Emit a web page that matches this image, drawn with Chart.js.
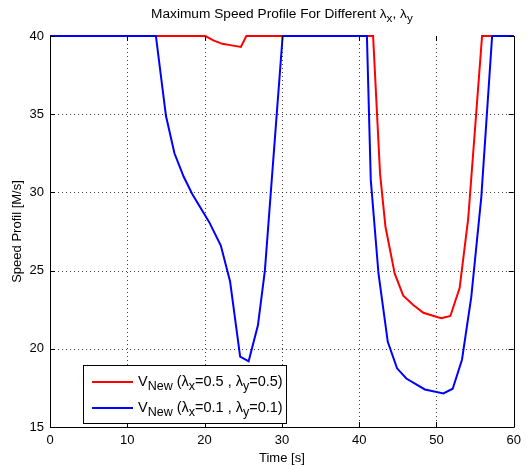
<!DOCTYPE html>
<html>
<head>
<meta charset="utf-8">
<script src="https://cdn.jsdelivr.net/npm/chart.js@4"></script>
<style>
  html, body { margin: 0; padding: 0; background: #fff; }
  #c { display: block; }
</style>
</head>
<body>
<canvas id="c" width="527" height="466" style="width:527px;height:466px"></canvas>
<script>
// ===== DATA =====
const timeRed  = [0, 20.1, 21.2, 22.3, 23.5, 24.7, 25.4, 41.8, 42.7, 43.4, 44.6, 45.7, 47.0, 48.3, 50.6, 51.8, 53.0, 54.1, 55.9, 60];
const speedRed = [40, 40, 39.7, 39.5, 39.4, 39.3, 40, 40, 31.2, 27.8, 24.8, 23.4, 22.8, 22.3, 21.95, 22.1, 23.9, 28.3, 40, 40];

const timeBlue  = [0, 13.7, 15.0, 16.1, 17.3, 18.4, 20.6, 22.1, 23.3, 24.6, 25.7, 26.9, 27.8, 30.1, 41.0, 41.5, 42.5, 43.7, 44.9, 46.1, 48.5, 50.9, 52.1, 53.3, 54.5, 55.8, 57.2, 60];
const speedBlue = [40, 40, 34.9, 32.5, 31.0, 29.9, 28.1, 26.6, 24.3, 19.5, 19.2, 21.5, 25.0, 40, 40, 30.8, 24.8, 20.45, 18.75, 18.1, 17.4, 17.15, 17.45, 19.3, 23.3, 29.7, 40, 40];

const xTicks = [0, 10, 20, 30, 40, 50, 60];
const yTicks = [15, 20, 25, 30, 35, 40];

const FONT = '"Liberation Sans", Arial, Helvetica, sans-serif';

const toPoints = (xs, ys) => xs.map((x, i) => ({ x: x, y: ys[i] }));

// text with subscripts, parts = [[text, isSub], ...]
function richWidth(ctx, parts, size) {
  let w = 0;
  parts.forEach(p => {
    ctx.font = (p[1] ? size - 2 : size) + 'px ' + FONT;
    w += ctx.measureText(p[0]).width;
  });
  return w;
}
function drawRich(ctx, parts, x, y, size) {
  ctx.textAlign = 'left';
  ctx.textBaseline = 'alphabetic';
  parts.forEach(p => {
    ctx.font = (p[1] ? size - 2 : size) + 'px ' + FONT;
    ctx.fillText(p[0], x, p[1] ? y + 4 : y);
    x += ctx.measureText(p[0]).width;
  });
}

const titleParts = [['Maximum Speed Profile For Different \u03bb', false], ['x', true], [', \u03bb', false], ['y', true]];
const legendItems = [
  { color: '#ff0000', parts: [['V', false], ['New', true], [' (\u03bb', false], ['x', true], ['=0.5 , \u03bb', false], ['y', true], ['=0.5)', false]] },
  { color: '#0000ff', parts: [['V', false], ['New', true], [' (\u03bb', false], ['x', true], ['=0.1 , \u03bb', false], ['y', true], ['=0.1)', false]] }
];

const matlabPlugin = {
  id: 'matlab',
  beforeDatasetsDraw(chart) {
    // dotted grid
    const ctx = chart.ctx;
    const a = chart.chartArea;
    const xs = chart.scales.x, ys = chart.scales.y;
    ctx.save();
    ctx.strokeStyle = 'rgba(0,0,0,0.75)';
    ctx.lineWidth = 1;
    ctx.setLineDash([1, 3]);
    ctx.beginPath();
    xTicks.slice(1, -1).forEach(v => {
      const px = Math.round(xs.getPixelForValue(v)) + 0.5;
      ctx.moveTo(px, a.top); ctx.lineTo(px, a.bottom);
    });
    yTicks.slice(1, -1).forEach(v => {
      const py = Math.round(ys.getPixelForValue(v)) + 0.5;
      ctx.moveTo(a.left, py); ctx.lineTo(a.right, py);
    });
    ctx.stroke();
    ctx.restore();
  },
  afterDraw(chart) {
    const ctx = chart.ctx;
    const a = chart.chartArea;
    const xs = chart.scales.x, ys = chart.scales.y;
    ctx.save();
    ctx.fillStyle = '#000';
    ctx.strokeStyle = '#000';
    ctx.lineWidth = 1;

    // inward tick marks on all four sides
    ctx.beginPath();
    xTicks.forEach(v => {
      const px = Math.round(xs.getPixelForValue(v)) + 0.5;
      ctx.moveTo(px, a.bottom); ctx.lineTo(px, a.bottom - 5);
      ctx.moveTo(px, a.top); ctx.lineTo(px, a.top + 5);
    });
    yTicks.forEach(v => {
      const py = Math.round(ys.getPixelForValue(v)) + 0.5;
      ctx.moveTo(a.left, py); ctx.lineTo(a.left + 5, py);
      ctx.moveTo(a.right, py); ctx.lineTo(a.right - 5, py);
    });
    ctx.stroke();

    // frame: left, bottom, right (the top edge is covered by the 40 line)
    ctx.beginPath();
    const L = Math.round(a.left) + 0.5, R = Math.round(a.right) + 0.5;
    const T = Math.round(a.top) + 0.5, B = Math.round(a.bottom) + 0.5;
    ctx.moveTo(L, T); ctx.lineTo(L, B); ctx.lineTo(R, B); ctx.lineTo(R, T);
    ctx.stroke();

    // title
    const tw = richWidth(ctx, titleParts, 13.7);
    drawRich(ctx, titleParts, (a.left + a.right) / 2 - tw / 2, 18, 13.7);

    // legend
    const lx = 83.5, ly = 365.5, lw = 203, lh = 58;
    ctx.fillStyle = '#fff';
    ctx.fillRect(lx, ly, lw, lh);
    ctx.strokeRect(lx, ly, lw, lh);
    legendItems.forEach((it, i) => {
      const cy = 382 + i * 26;
      ctx.strokeStyle = it.color;
      ctx.lineWidth = 2;
      ctx.beginPath();
      ctx.moveTo(92, cy); ctx.lineTo(133, cy);
      ctx.stroke();
      ctx.fillStyle = '#000';
      drawRich(ctx, it.parts, 138, cy + 4, 14.5);
    });
    ctx.restore();
  }
};

new Chart(document.getElementById('c'), {
  type: 'line',
  data: {
    datasets: [
      {
        label: 'V_New (lx=0.5 , ly=0.5)',
        data: toPoints(timeRed, speedRed),
        borderColor: '#ff0000', borderWidth: 2, pointRadius: 0,
        tension: 0, fill: false, order: 1, clip: false
      },
      {
        label: 'V_New (lx=0.1 , ly=0.1)',
        data: toPoints(timeBlue, speedBlue),
        borderColor: '#0000ff', borderWidth: 2, pointRadius: 0,
        tension: 0, fill: false, order: 0, clip: false
      }
    ]
  },
  options: {
    responsive: false,
    animation: false,
    layout: { padding: { top: 36, right: 9, left: 0, bottom: 0 } },
    plugins: { legend: { display: false }, tooltip: { enabled: false }, title: { display: false } },
    scales: {
      x: {
        type: 'linear', min: 0, max: 60,
        afterBuildTicks: s => { s.ticks = xTicks.map(v => ({ value: v })); },
        afterFit: s => { s.height = 39; },
        ticks: { color: '#000', padding: 6, font: { family: FONT, size: 13 }, maxRotation: 0 },
        grid: { display: false, drawTicks: false },
        border: { display: false },
        title: { display: true, text: 'Time [s]', color: '#000', font: { family: FONT, size: 13 }, padding: { top: 1, bottom: 0 } }
      },
      y: {
        type: 'linear', min: 15, max: 40,
        afterBuildTicks: s => { s.ticks = yTicks.map(v => ({ value: v })); },
        afterFit: s => { s.width = 50; },
        ticks: { color: '#000', padding: 6, font: { family: FONT, size: 13 } },
        grid: { display: false, drawTicks: false },
        border: { display: false },
        title: { display: true, text: 'Speed Profil [M/s]', color: '#000', font: { family: FONT, size: 13 }, padding: { top: 10, bottom: 0 } }
      }
    }
  },
  plugins: [matlabPlugin]
});
</script>
</body>
</html>
